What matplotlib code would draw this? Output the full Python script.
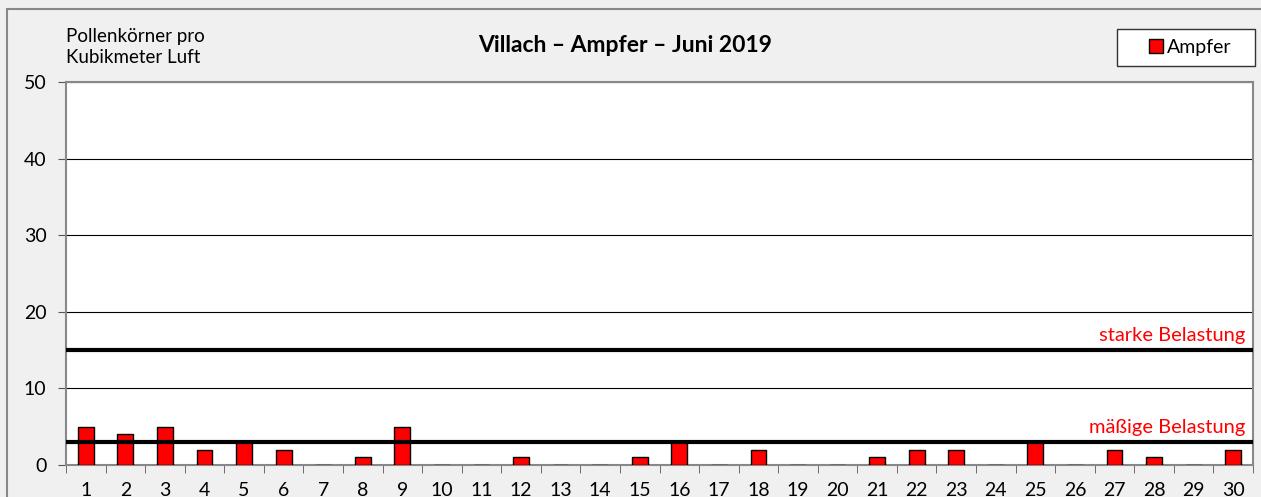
import matplotlib
matplotlib.use("Agg")
import matplotlib.pyplot as plt
from matplotlib.patches import Rectangle, Patch

days = list(range(1, 31))
values = [5, 4, 5, 2, 3, 2, 0, 1, 5, 0, 0, 1, 0, 0, 1, 3, 0, 2, 0, 0, 1, 2, 2, 0, 3, 0, 2, 1, 0, 2]
thresholds = [3, 15]
threshold_labels = ["mäßige Belastung", "starke Belastung"]
title = "Villach – Ampfer – Juni 2019"
ylabel = "Pollenkörner pro\nKubikmeter Luft"
series_name = "Ampfer"

plt.rcParams['font.family'] = ['Lato', 'DejaVu Sans']

fig = plt.figure(figsize=(12.61, 4.97), dpi=100)
fig.patch.set_facecolor('#F0F0F0')
fig.patches.append(Rectangle((7/1261, -0.1), 1.2, 1 - 9/497 + 0.1, transform=fig.transFigure,
                             fill=False, edgecolor='#888888', linewidth=1.5))

ax = fig.add_axes([66/1261, 32/497, (1253-66)/1261, (465-82)/497])
ax.set_facecolor('white')
ax.bar(days, values, width=0.4, color='#FF0000', edgecolor='black', linewidth=1.0, zorder=3, label=series_name)
for t in thresholds:
    ax.axhline(t, color='black', linewidth=3, zorder=4)
ax.set_xlim(0.5, 30.5)
ax.set_ylim(0, 50)
ax.set_yticks([0, 10, 20, 30, 40, 50])
ax.yaxis.grid(True, color='black', linewidth=0.8, zorder=0)
ax.set_xticks(days)
ax.set_xticks([d + 0.5 for d in range(0, 31)], minor=True)
ax.tick_params(axis='x', which='major', length=0, labelsize=14, pad=12)
ax.tick_params(axis='x', which='minor', length=6, color='#555555')
ax.tick_params(axis='y', length=6, labelsize=14, color='#555555', pad=8)
for s in ax.spines.values():
    s.set_color('#888888')
    s.set_linewidth(1.5)

ax.text(30.3, 15.8, threshold_labels[1], color='#FF0000', ha='right', va='bottom', fontsize=14.5)
ax.text(30.3, 3.8, threshold_labels[0], color='#FF0000', ha='right', va='bottom', fontsize=14.5)

fig.text(66/1261, 1 - 47/497, ylabel, ha='left', va='center', fontsize=13.5, linespacing=1.3)
fig.text(625/1261, 1 - 46/497, title, ha='center', va='center', fontsize=16.5, fontweight='bold')

# legend frame drawn explicitly, entry placed inside
fig.patches.append(Rectangle((1117/1261, 1 - 66/497), (1255-1117)/1261, 37/497, transform=fig.transFigure,
                             facecolor='white', edgecolor='#333333', linewidth=1))
leg = fig.legend(handles=[Patch(facecolor='#FF0000', edgecolor='black', label=series_name)],
                 loc='center', bbox_to_anchor=(1190/1261, 1 - 47/497), frameon=False,
                 fontsize=14, handlelength=0.7, handleheight=0.7, handletextpad=0.2,
                 borderpad=0.0, borderaxespad=0)

fig.savefig('out.png', dpi=100, facecolor=fig.get_facecolor())
